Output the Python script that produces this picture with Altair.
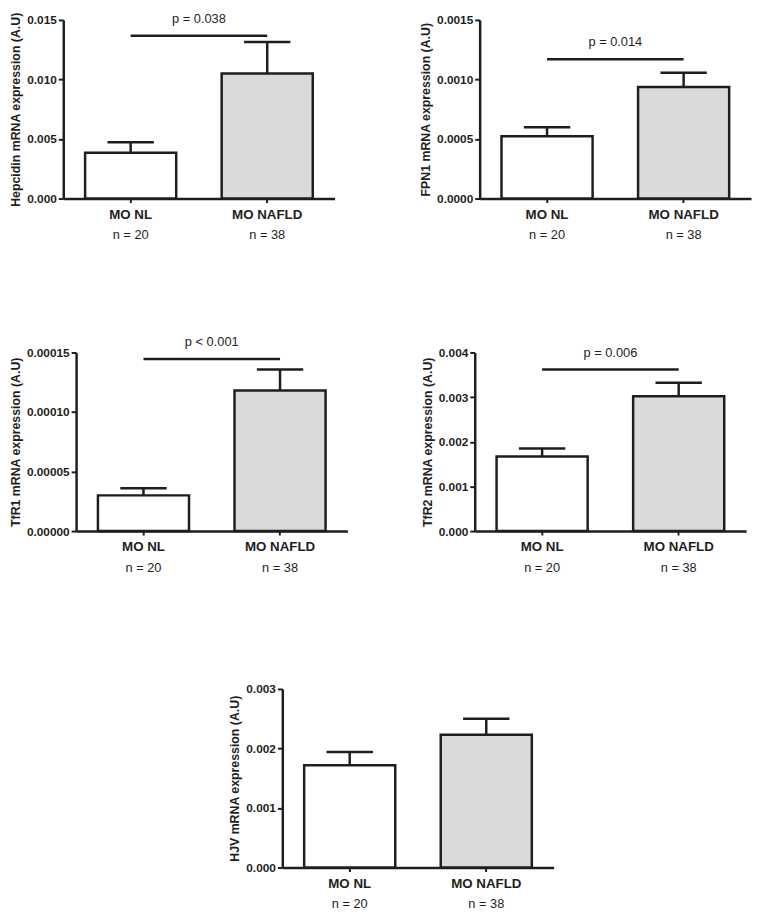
import altair as alt
import pandas as pd

# ---- data ----
groups = ["MO NL", "MO NAFLD"]
n_labels = ["n = 20", "n = 38"]
genes = ["Hepcidin", "FPN1", "TfR1", "TfR2", "HJV"]
mean_nl = [0.00384, 0.000523, 0.0000300, 0.00167, 0.00172]
mean_nafld = [0.0105, 0.000937, 0.000118, 0.00302, 0.00223]
upper_nl = [0.00472, 0.000599, 0.0000360, 0.00185, 0.00194]
upper_nafld = [0.01314, 0.001056, 0.0001358, 0.00332, 0.00250]
p_texts = ["p = 0.038", "p = 0.014", "p < 0.001", "p = 0.006", ""]
sig_heights = [0.01368, 0.00117, 0.0001446, 0.00362, 0.0]
y_ticks = [
    [0.0, 0.005, 0.010, 0.015],
    [0.0, 0.0005, 0.0010, 0.0015],
    [0.0, 0.00005, 0.00010, 0.00015],
    [0.0, 0.001, 0.002, 0.003, 0.004],
    [0.0, 0.001, 0.002, 0.003],
]
y_formats = [".3f", ".4f", ".5f", ".3f", ".3f"]

# ---- styling ----
W, H = 275, 181
FONT = "Liberation Sans"
INK = "#1e1e1e"
fills = ["#ffffff", "#d9dadc"]


def panel(i):
    df = pd.DataFrame({
        "group": groups,
        "mean": [mean_nl[i], mean_nafld[i]],
        "upper": [upper_nl[i], upper_nafld[i]],
        "n": n_labels,
    })
    xscale = alt.Scale(domain=groups, paddingInner=0.333, paddingOuter=0.16)
    xaxis = alt.Axis(title=None, labelAngle=0, labelFont=FONT, labelFontSize=13.5,
                     labelFontWeight="bold", labelColor=INK, labelPadding=5,
                     domainColor=INK, domainWidth=2.5, tickColor=INK,
                     tickWidth=2, tickSize=4)
    yscale = alt.Scale(domain=[0, y_ticks[i][-1]], nice=False, zero=True)
    yaxis = alt.Axis(title=f"{genes[i]} mRNA expression (A.U)", values=y_ticks[i],
                     format=y_formats[i], grid=False,
                     labelFont=FONT, labelFontSize=12, labelFontWeight="bold",
                     labelColor=INK, labelPadding=2,
                     titleFont=FONT, titleFontSize=12.5, titleFontWeight="bold",
                     titleColor=INK, titlePadding=4,
                     domainColor=INK, domainWidth=2.5, tickColor=INK,
                     tickWidth=2, tickSize=5)
    x = alt.X("group:N", scale=xscale, axis=xaxis)
    base = alt.Chart(df)
    stem = base.mark_rule(color=INK, strokeWidth=2.5).encode(
        x=x, y=alt.Y("mean:Q", scale=yscale, axis=yaxis), y2="upper:Q")
    cap = base.mark_tick(color=INK, thickness=2.5, size=47, opacity=1).encode(
        x=x, y=alt.Y("upper:Q"))
    bars = base.mark_bar(stroke=INK, strokeWidth=2.5, opacity=1).encode(
        x=x, y=alt.Y("mean:Q"),
        fill=alt.Fill("group:N", scale=alt.Scale(domain=groups, range=fills), legend=None))
    nlab = base.mark_text(font=FONT, fontSize=13, baseline="middle", color=INK).encode(
        x=x, y=alt.value(H + 37), text="n:N")
    layers = [stem, cap, bars, nlab]
    if p_texts[i]:
        sig = pd.DataFrame({"group": [groups[0]], "group2": [groups[1]],
                            "y": [sig_heights[i]], "label": [p_texts[i]]})
        line = alt.Chart(sig).mark_rule(color=INK, strokeWidth=2.5).encode(
            x=alt.X("group:N", bandPosition=0.5),
            x2=alt.X2("group2:N", bandPosition=0.5),
            y=alt.Y("y:Q"))
        ptxt = alt.Chart(sig).mark_text(font=FONT, fontSize=13, baseline="middle",
                                        color=INK, dy=-17).encode(
            x=alt.value(W / 2), y=alt.Y("y:Q"), text="label:N")
        layers += [line, ptxt]
    return alt.layer(*layers).properties(width=W, height=H)


def spacer(w):
    return alt.Chart(pd.DataFrame({"a": [0]})).mark_text(text=" ", opacity=0).properties(
        width=w, height=1)


row1 = alt.hconcat(spacer(1), alt.hconcat(panel(0), panel(1), spacing=84), spacing=0)
row2 = alt.hconcat(spacer(1), alt.hconcat(panel(2), panel(3), spacing=73), spacing=0)
row3 = alt.hconcat(spacer(203), panel(4), spacing=20)

top = alt.vconcat(row1, row2, spacing=94)
chart = alt.vconcat(top, row3, spacing=108).properties(
    padding={"left": 0, "top": -3, "right": 0, "bottom": 0}
).configure_view(stroke="transparent")

chart.save("out.html", embed_options={"renderer": "svg", "actions": False})
